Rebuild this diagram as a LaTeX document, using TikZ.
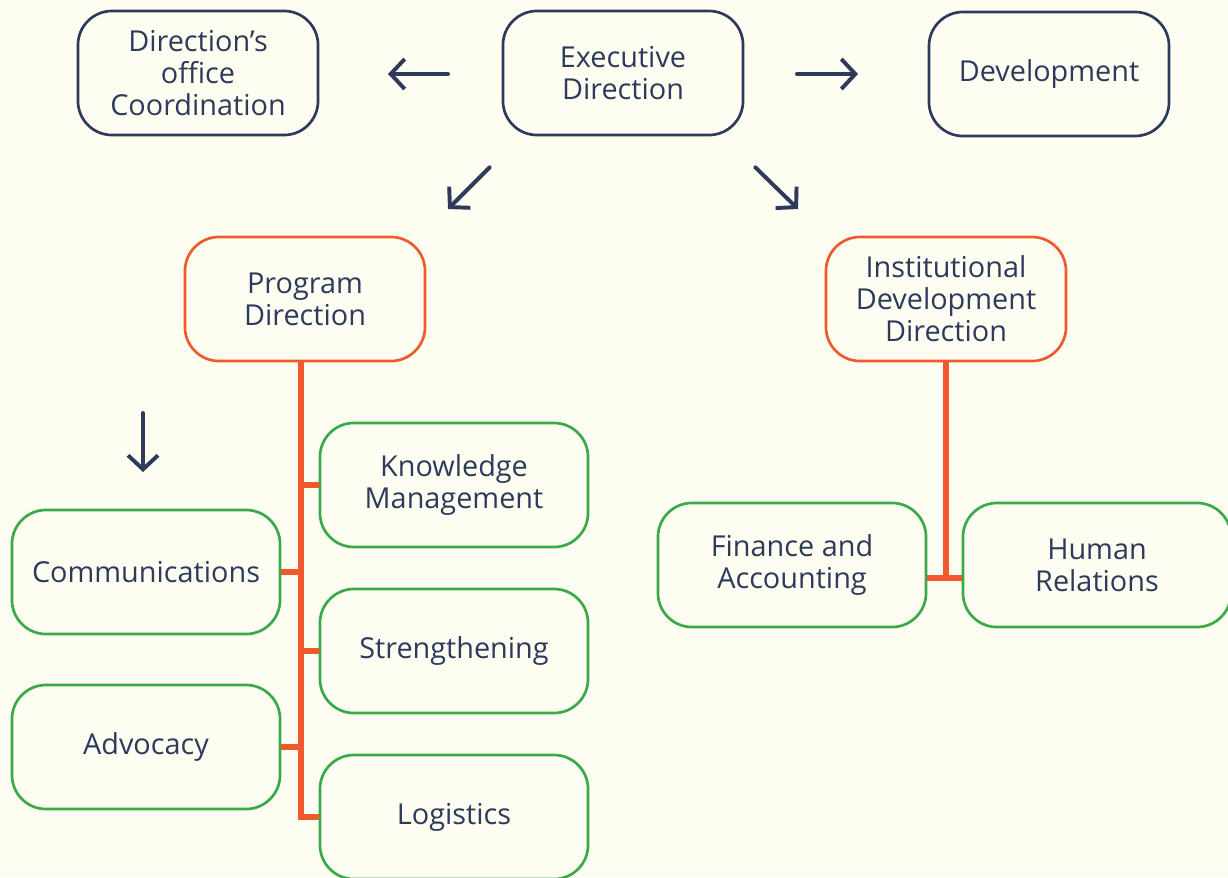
\documentclass[tikz,border=0pt]{standalone}
\usepackage{xcolor}
\usepackage{fontspec}
\setmainfont{Open Sans}
\usepackage{tikz}
\usetikzlibrary{arrows.meta}

\definecolor{navy}{HTML}{2D3A5C}
\definecolor{brick}{HTML}{F05A2A}
\definecolor{leaf}{HTML}{3AAA48}
\definecolor{paper}{HTML}{FDFDF1}

\begin{document}
\begin{tikzpicture}[x=0.025cm, y=-0.025cm,
        unit/.style={draw, rounded corners=0.85cm, line width=1.9pt, fill=paper,
            text=navy, align=center, minimum height=3.1cm,
            font=\fontsize{20.5}{22.8}\selectfont},
        head/.style={unit, draw=navy, minimum width=6cm},
        direction/.style={unit, draw=brick, minimum width=6cm},
        team/.style={unit, draw=leaf, minimum width=6.7cm},
        pointer/.style={draw=navy, line width=2.8pt, line cap=round,
            -{Straight Barb[length=0.35cm, width=0.75cm]}},
        branch/.style={draw=brick, line width=3.6pt}]

        \fill[paper] (0,0) rectangle (1228,877);
        \useasboundingbox (0,0) rectangle (1228,877);

        % top row
        \node[head] (office) at (198, 73) {Direction’s\\office\\Coordination};
        \node[head] (exec) at (623, 73) {Executive\\Direction};
        \node[head] (dev) at (1049, 74) {Development};

        % directions
        \node[direction] (prog) at (305, 299) {Program\\Direction};
        \node[direction] (inst) at (946, 299) {Institutional\\Development\\Direction};

        % free standing arrows
        \coordinate (lfrom) at (448, 74);  \coordinate (lto) at (388, 74);
        \coordinate (rfrom) at (797, 74);  \coordinate (rto) at (858, 74);
        \coordinate (dlfrom) at (490, 167); \coordinate (dlto) at (448, 209);
        \coordinate (drfrom) at (755, 167); \coordinate (drto) at (798, 209);
        \coordinate (dfrom) at (143, 413); \coordinate (dto) at (143, 472);
        \draw[pointer] (lfrom) -- (lto);
        \draw[pointer] (rfrom) -- (rto);
        \draw[pointer] (dlfrom) -- (dlto);
        \draw[pointer] (drfrom) -- (drto);
        \draw[pointer] (dfrom) -- (dto);

        % program teams
        \node[team] (km) at (454, 485) {Knowledge\\Management};
        \node[team] (comm) at (146, 572) {Communications};
        \node[team] (strength) at (454, 651) {Strengthening};
        \node[team] (adv) at (146, 747) {Advocacy};
        \node[team] (logi) at (454, 817) {Logistics};

        \coordinate (trunk) at (301, 361);
        \draw[branch] (trunk) -- (trunk |- logi.west);
        \draw[branch] ([xshift=-1.8pt]trunk |- logi.west) -- (logi.west);
        \draw[branch] (trunk |- km.west) -- (km.west);
        \draw[branch] (trunk |- strength.west) -- (strength.west);
        \draw[branch] (comm.east) -- (comm.east -| trunk);
        \draw[branch] (adv.east) -- (adv.east -| trunk);

        % institutional teams
        \node[team] (fin) at (792, 565) {Finance and\\Accounting};
        \node[team] (hr) at (1097, 565) {Human\\Relations};

        \coordinate (joint) at (946, 578);
        \draw[branch] (inst.south) -- ([yshift=-1.8pt]joint);
        \draw[branch] (fin.east |- joint) -- (hr.west |- joint);

    \end{tikzpicture}
\end{document}
